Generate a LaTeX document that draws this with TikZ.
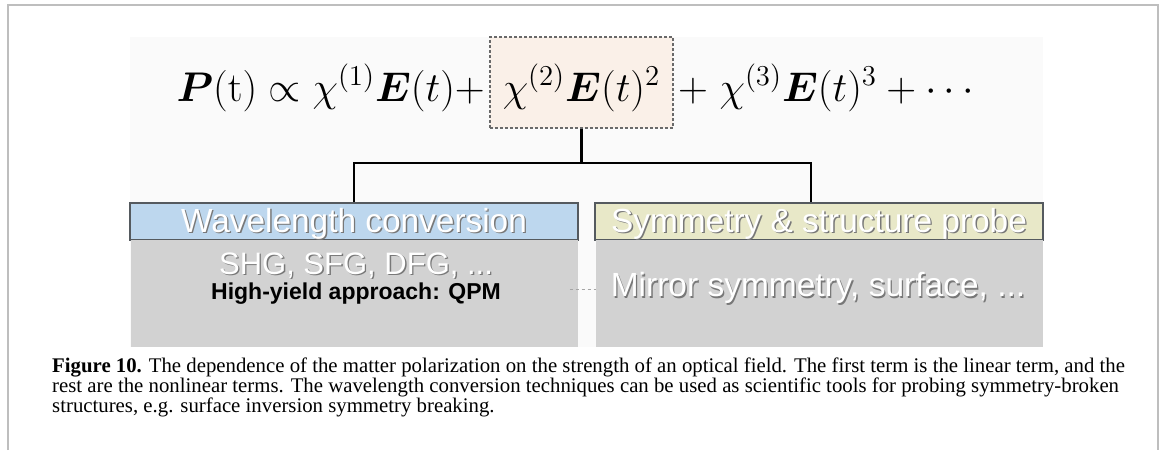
\documentclass[tikz,border=0pt]{standalone}
\usepackage{graphicx}
\usepackage{amsmath,bm}
\usepackage[no-math]{fontspec}
\setmainfont{Liberation Serif}
\newfontfamily\arialfont{Liberation Sans}
\definecolor{framegray}{RGB}{190,190,190}
\definecolor{panelbg}{RGB}{250,250,250}
\definecolor{termfill}{RGB}{250,240,232}
\definecolor{termedge}{RGB}{105,105,105}
\definecolor{headblue}{RGB}{189,215,238}
\definecolor{headolive}{RGB}{232,232,200}
\definecolor{headedge}{RGB}{85,90,95}
\definecolor{bodygray}{RGB}{210,210,210}
\definecolor{shadowgray}{RGB}{120,120,120}
\definecolor{linkgray}{RGB}{165,165,165}
% white lettering with a soft drop shadow
\newcommand\embossed[1]{\rlap{\kern1.4pt\raisebox{-1.6pt}{\color{shadowgray}#1}}{\color{white}#1}}
% large formula: set at 20pt and enlarged
\newcommand\bigeq[1]{\scalebox{2}{\fontsize{20}{22}\selectfont$#1$}}
\begin{document}
\begin{tikzpicture}[x=1pt,y=-1pt,
  termbox/.style={draw=termedge,dash pattern=on 3pt off 2pt,line width=1.1pt,fill=termfill,
    minimum width=183pt,minimum height=91pt,inner sep=0pt},
  eqtext/.style={inner sep=0pt},
  headbox/.style={draw=headedge,line width=1.3pt,minimum width=448pt,
    minimum height=37pt,inner sep=0pt},
  bodybox/.style={fill=bodygray,minimum width=447pt,minimum height=107pt,inner sep=0pt},
  headtext/.style={inner sep=0pt,font=\arialfont\fontsize{33.4}{35}\selectfont},
  bodytext/.style={inner sep=0pt,font=\arialfont\fontsize{31}{33}\selectfont},
  notetext/.style={inner sep=0pt,font=\arialfont\bfseries\fontsize{23}{25}\selectfont},
  conn/.style={line width=2.8pt},
]
\useasboundingbox (0,0) rectangle (1167,450);
% page frame
\draw[framegray,line width=1.2pt] (8,450) -- (8,5) -- (1158,5) -- (1158,450);
% light panel behind the figure
\fill[panelbg] (130,37) rectangle (1043,347);

% polarization series
\node[termbox] (t2box) at (581.5,82.5) {};
\node[eqtext,anchor=base] (t2) at (581.5,101) {\bigeq{\chi^{(2)}\bm{E}(t)^2}};
\node[eqtext,anchor=base east] (t1) at (485,101)
  {\bigeq{\bm{P}(\mathrm{t})\propto\chi^{(1)}\bm{E}(t)+}};
\node[eqtext,anchor=base west] (t3) at (678,101)
  {\bigeq{+\;\chi^{(3)}\bm{E}(t)^3+\cdots}};

% application boxes
\node[headbox,fill=headblue] (lhead) at (354,221.5) {};
\node[headbox,fill=headolive] (rhead) at (819,221.5) {};
\node[bodybox] (lbody) at (354,293.5) {};
\node[bodybox] (rbody) at (819.5,293.5) {};
\node[headtext] (lheadtxt) at ([yshift=-3pt]lhead.center) {\embossed{Wavelength conversion}};
\node[headtext] (rheadtxt) at ([yshift=-3pt]rhead.center) {\embossed{Symmetry \& structure probe}};
\node[bodytext] (shg) at (356,266) {\embossed{SHG, SFG, DFG, ...}};
\node[notetext] (qpm) at (356,294) {High-yield approach: QPM};
\node[bodytext,font=\arialfont\fontsize{33.5}{35}\selectfont] (mirror) at (818,289)
  {\embossed{Mirror symmetry, surface, ...}};

% tree connectors
\coordinate (split) at (t2box.south |- 0,163);
\draw[conn] (t2box.south) -- (split);
\draw[conn] (split) -| (lhead.north);
\draw[conn] (split) -| ([xshift=-8pt]rhead.north);
\draw[linkgray,dashed,line width=1pt] ([xshift=-8pt]lbody.east |- mirror) -- (rbody.west |- mirror);

% caption
\node[anchor=north west,inner sep=0pt,align=left,
  font=\fontsize{20.8}{19.6}\selectfont] (caption) at (52,358)
  {\textbf{Figure 10.} The dependence of the matter polarization on the strength of an optical field. The first term is the linear term, and the\\
   rest are the nonlinear terms. The wavelength conversion techniques can be used as scientific tools for probing symmetry-broken\\
   structures, e.g. surface inversion symmetry breaking.};
\end{tikzpicture}
\end{document}
